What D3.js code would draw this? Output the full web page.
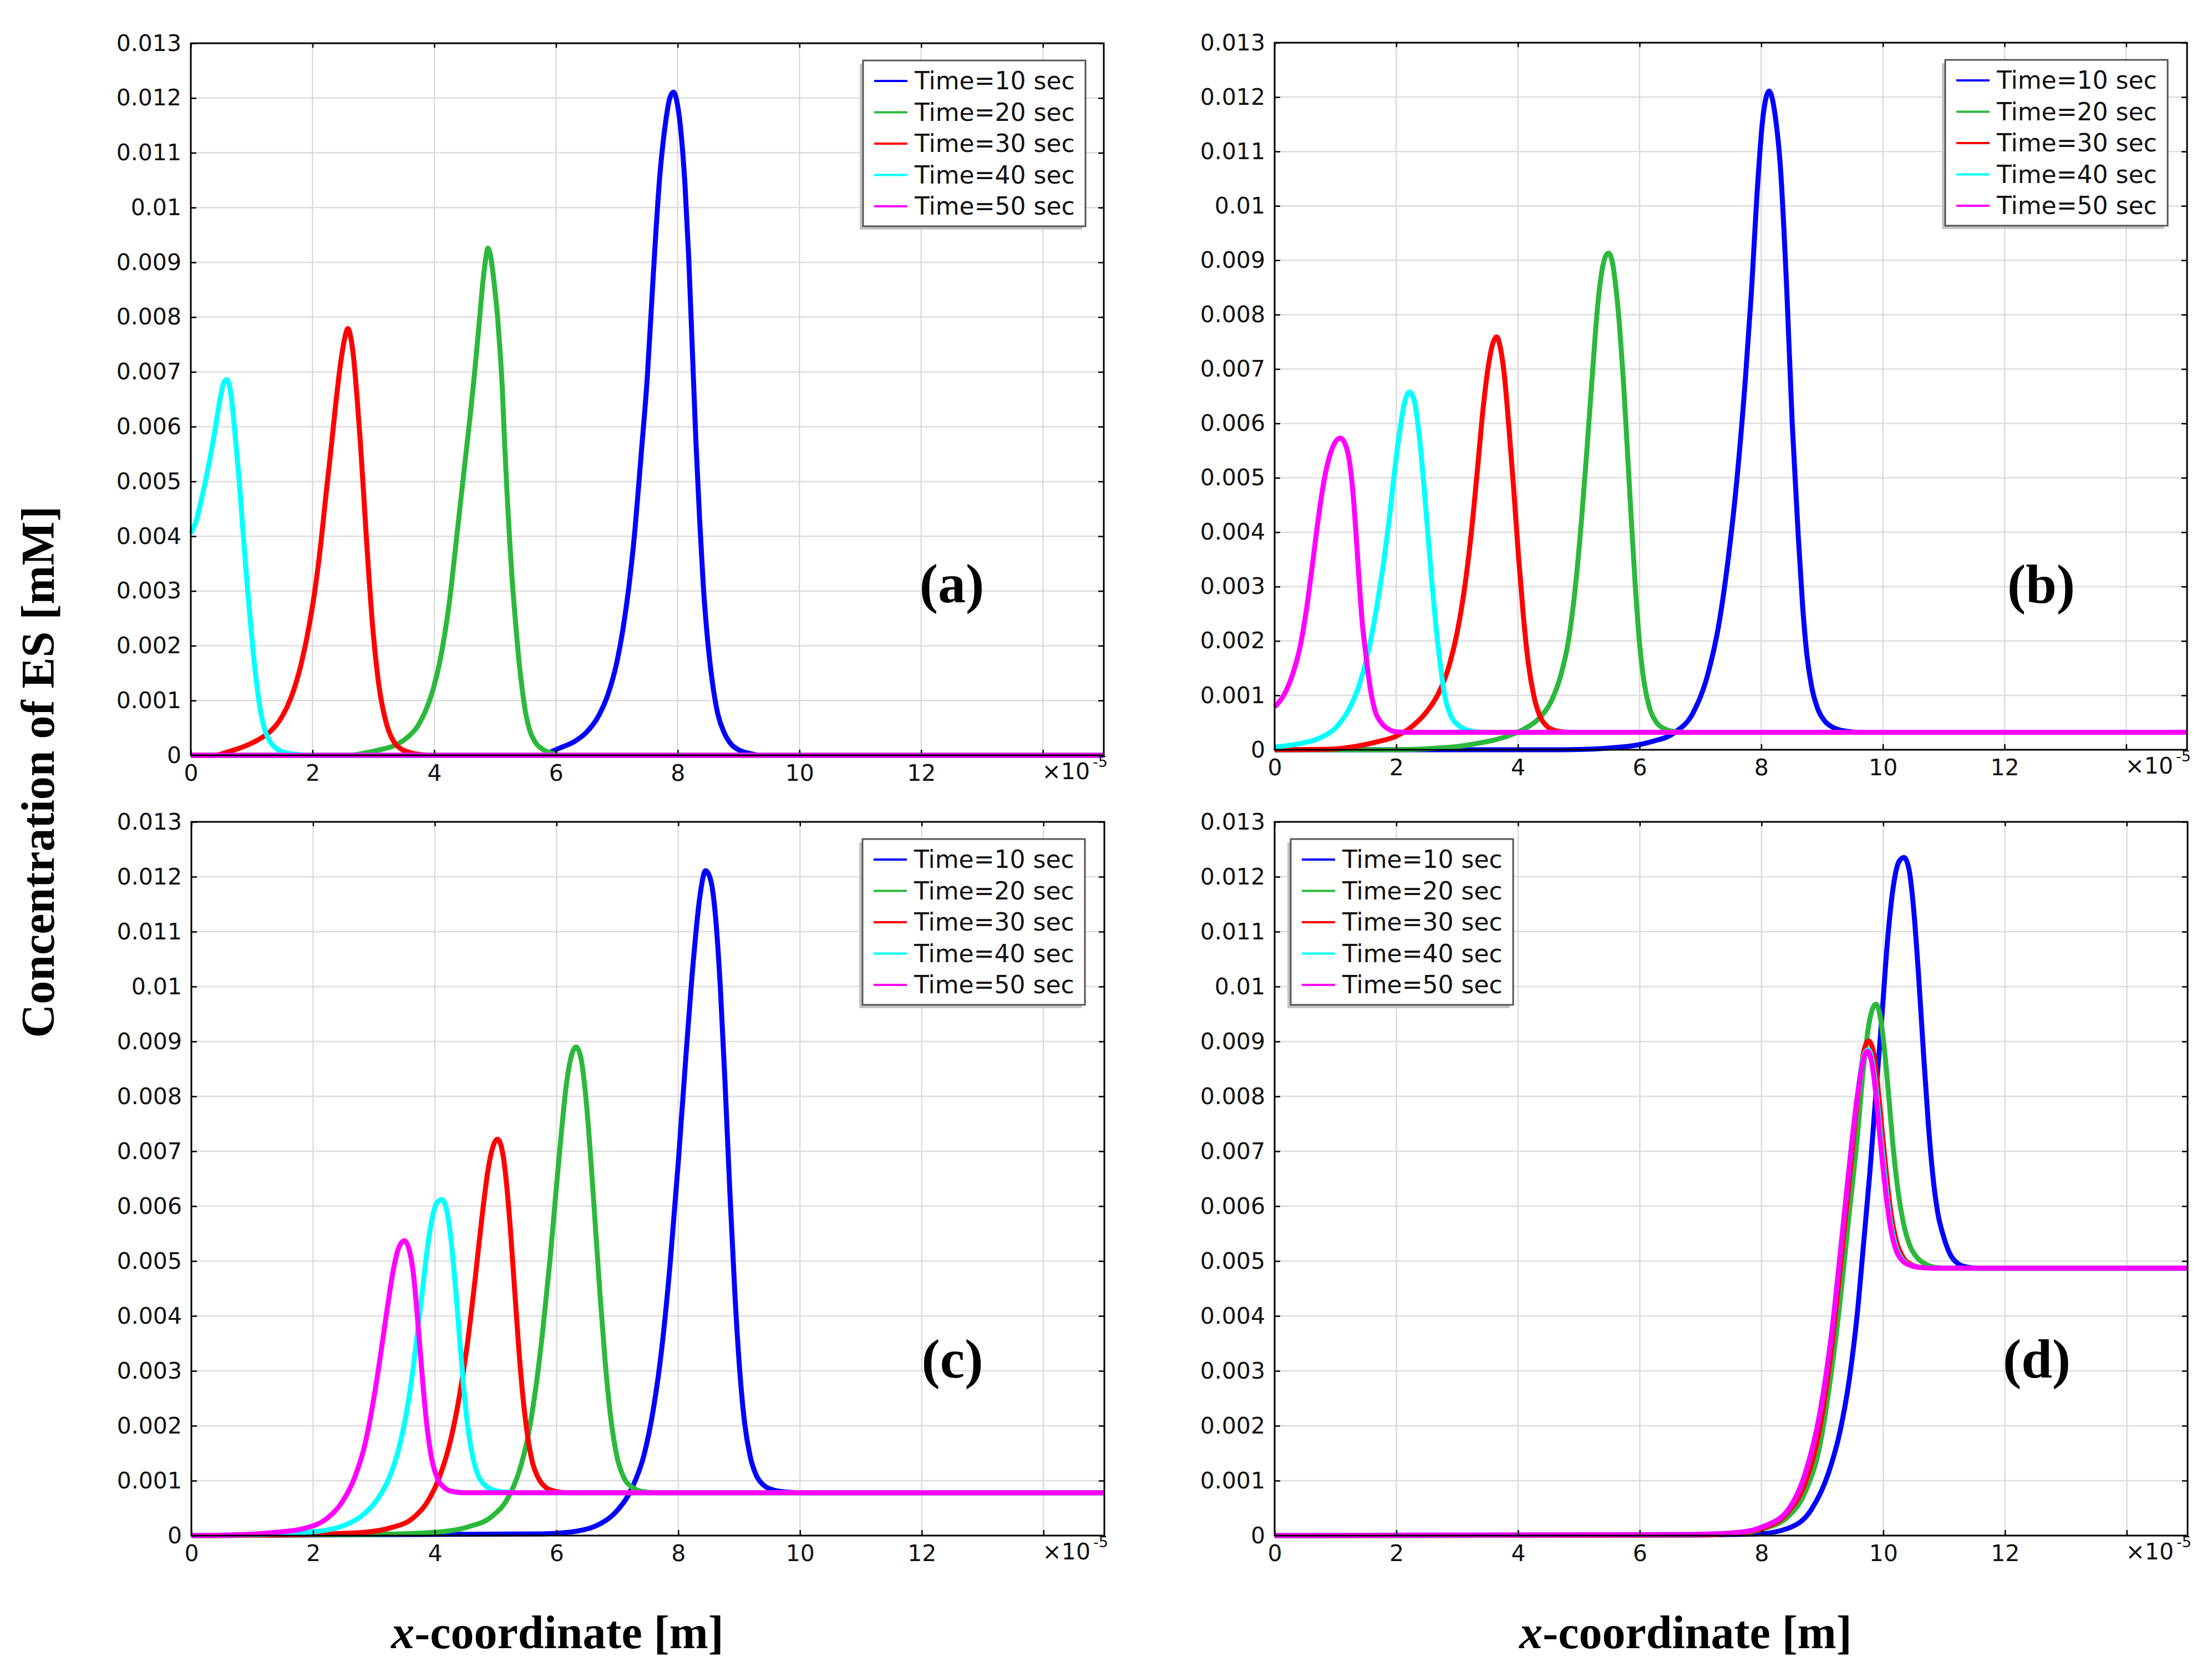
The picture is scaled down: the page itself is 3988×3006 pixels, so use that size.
<!DOCTYPE html>
<html>
<head>
<meta charset="utf-8">
<script src="https://cdn.jsdelivr.net/npm/d3@7"></script>
<style>
  body { margin: 0; background: #fff; }
</style>
</head>
<body>
<svg id="chart"></svg>
<script>
// x in units of 1e-5 m, concentration in 1e-3 mM (tick labels below are in mM)
var seriesNames = ["Time=10 sec", "Time=20 sec", "Time=30 sec", "Time=40 sec", "Time=50 sec"];
var seriesColors = ["#0000ff", "#2cb83c", "#ff0000", "#00ffff", "#ff00ff"];

var xTicks = [0, 2, 4, 6, 8, 10, 12, 14];
var xTickLabels = ["0", "2", "4", "6", "8", "10", "12", ""];
var yTicks = [0, 1, 2, 3, 4, 5, 6, 7, 8, 9, 10, 11, 12, 13];
var yTickLabels = ["0", "0.001", "0.002", "0.003", "0.004", "0.005", "0.006",
  "0.007", "0.008", "0.009", "0.01", "0.011", "0.012", "0.013"];

// panel (a)
var a_t10 = [[0,0],[5.8,0],[5.95,0.08],[6.1,0.15],[6.3,0.25],[6.5,0.42],[6.7,0.72],[6.85,1.1],[7.0,1.7],[7.1,2.3],[7.2,3.1],[7.3,4.15],[7.4,5.5],[7.5,6.9],[7.6,8.8],[7.7,10.5],[7.8,11.55],[7.87,12.0],[7.93,12.11],[8.0,11.85],[8.06,11.3],[8.12,10.4],[8.18,9.1],[8.24,7.4],[8.3,5.7],[8.36,4.3],[8.42,3.1],[8.5,2.0],[8.58,1.25],[8.66,0.75],[8.76,0.42],[8.88,0.2],[9.0,0.1],[9.2,0.03],[9.4,0],[15,0]];
var a_t20 = [[0,0],[2.6,0],[2.85,0.04],[3.1,0.1],[3.35,0.18],[3.55,0.32],[3.72,0.52],[3.86,0.82],[3.98,1.2],[4.08,1.65],[4.17,2.2],[4.26,2.9],[4.34,3.7],[4.42,4.5],[4.5,5.3],[4.58,6.1],[4.66,6.95],[4.74,7.92],[4.8,8.65],[4.85,9.1],[4.88,9.26],[4.92,9.15],[4.96,8.85],[5.0,8.45],[5.04,8.0],[5.08,7.4],[5.12,6.65],[5.16,5.6],[5.2,4.7],[5.24,3.9],[5.28,3.2],[5.33,2.5],[5.38,1.85],[5.44,1.25],[5.5,0.78],[5.57,0.45],[5.66,0.24],[5.78,0.11],[5.92,0.04],[6.1,0],[15,0]];
var a_t30 = [[0,0],[0.4,0],[0.6,0.06],[0.85,0.15],[1.1,0.28],[1.3,0.43],[1.45,0.62],[1.58,0.88],[1.7,1.22],[1.82,1.7],[1.95,2.4],[2.05,3.1],[2.14,3.9],[2.22,4.75],[2.3,5.55],[2.38,6.4],[2.46,7.15],[2.53,7.62],[2.58,7.79],[2.63,7.62],[2.68,7.2],[2.73,6.55],[2.78,5.8],[2.83,4.95],[2.88,4.05],[2.93,3.2],[2.98,2.45],[3.04,1.75],[3.1,1.2],[3.17,0.78],[3.25,0.45],[3.34,0.24],[3.45,0.12],[3.6,0.05],[3.8,0.01],[4.0,0],[15,0]];
var a_t40 = [[0,4.05],[0.08,4.25],[0.16,4.6],[0.24,5.0],[0.32,5.45],[0.4,5.95],[0.48,6.5],[0.54,6.8],[0.59,6.86],[0.64,6.72],[0.69,6.3],[0.74,5.7],[0.8,4.95],[0.86,4.05],[0.92,3.2],[0.98,2.42],[1.04,1.72],[1.1,1.15],[1.16,0.72],[1.22,0.45],[1.3,0.25],[1.4,0.13],[1.52,0.06],[1.7,0.02],[2.0,0],[15,0]];
var a_t50 = [[0,0],[15,0]];

// panel (b)
var b_t10 = [[0,0],[4.75,0],[5.71,0.05],[6.2,0.15],[6.58,0.32],[6.87,0.66],[7.11,1.34],[7.31,2.35],[7.45,3.45],[7.6,4.97],[7.74,6.83],[7.84,8.44],[7.93,10.21],[8.03,11.65],[8.13,12.11],[8.22,11.73],[8.32,10.63],[8.42,8.44],[8.51,5.98],[8.61,3.9],[8.68,2.65],[8.75,1.75],[8.83,1.15],[8.93,0.75],[9.05,0.52],[9.2,0.4],[9.4,0.34],[9.65,0.32],[15,0.32]];
var b_t20 = [[0,0],[1.85,0],[2.82,0.04],[3.3,0.11],[3.8,0.24],[4.1,0.38],[4.35,0.58],[4.55,0.9],[4.7,1.35],[4.83,2.0],[4.94,2.95],[5.04,4.15],[5.14,5.6],[5.23,7.0],[5.31,8.15],[5.38,8.8],[5.44,9.07],[5.49,9.13],[5.55,8.98],[5.61,8.5],[5.67,7.8],[5.73,6.85],[5.79,5.7],[5.86,4.3],[5.93,3.0],[6.0,1.95],[6.08,1.2],[6.17,0.75],[6.28,0.5],[6.42,0.38],[6.6,0.33],[6.8,0.32],[15,0.32]];
var b_t30 = [[0,0],[0.89,0.01],[1.37,0.07],[1.7,0.15],[2.0,0.25],[2.25,0.42],[2.5,0.7],[2.7,1.05],[2.87,1.55],[3.0,2.15],[3.12,2.95],[3.23,3.95],[3.33,5.1],[3.43,6.3],[3.52,7.1],[3.59,7.48],[3.65,7.59],[3.71,7.4],[3.78,6.85],[3.85,5.95],[3.93,4.8],[4.01,3.55],[4.09,2.45],[4.17,1.6],[4.26,1.0],[4.36,0.62],[4.48,0.43],[4.62,0.35],[4.8,0.32],[15,0.32]];
var b_t40 = [[0,0.05],[0.4,0.11],[0.75,0.22],[1.0,0.4],[1.2,0.7],[1.38,1.15],[1.53,1.75],[1.66,2.5],[1.78,3.35],[1.88,4.2],[1.97,5.1],[2.05,5.8],[2.13,6.35],[2.22,6.58],[2.3,6.4],[2.37,5.85],[2.44,5.05],[2.51,4.1],[2.58,3.15],[2.65,2.3],[2.72,1.6],[2.8,0.98],[2.9,0.62],[3.02,0.45],[3.18,0.36],[3.4,0.32],[15,0.32]];
var b_t50 = [[0,0.79],[0.15,1.0],[0.3,1.4],[0.42,1.9],[0.52,2.55],[0.61,3.3],[0.7,4.1],[0.79,4.8],[0.88,5.3],[0.97,5.6],[1.08,5.73],[1.16,5.62],[1.23,5.3],[1.29,4.7],[1.34,3.95],[1.39,3.1],[1.44,2.35],[1.5,1.75],[1.57,1.15],[1.65,0.72],[1.75,0.5],[1.87,0.38],[2.0,0.33],[2.2,0.32],[15,0.32]];

// panel (c)
var c_t10 = [[0,0],[5.75,0.03],[6.33,0.08],[6.71,0.21],[7.0,0.46],[7.25,0.89],[7.44,1.48],[7.59,2.3],[7.73,3.42],[7.87,5.0],[8.0,6.8],[8.13,8.8],[8.25,10.5],[8.35,11.6],[8.45,12.11],[8.53,11.95],[8.61,11.3],[8.69,10.0],[8.77,8.2],[8.85,6.2],[8.93,4.4],[9.01,3.0],[9.09,2.05],[9.18,1.45],[9.28,1.1],[9.4,0.92],[9.56,0.83],[9.8,0.79],[10.05,0.78],[15,0.78]];
var c_t20 = [[0,0],[3.0,0.02],[4.0,0.06],[4.55,0.16],[4.95,0.36],[5.2,0.68],[5.38,1.15],[5.53,1.8],[5.66,2.7],[5.78,3.8],[5.89,5.0],[5.99,6.25],[6.08,7.35],[6.16,8.2],[6.24,8.72],[6.32,8.9],[6.4,8.7],[6.48,8.0],[6.56,6.9],[6.64,5.6],[6.72,4.3],[6.8,3.15],[6.89,2.15],[6.99,1.45],[7.1,1.07],[7.24,0.88],[7.42,0.8],[7.65,0.78],[15,0.78]];
var c_t30 = [[0,0],[1.9,0.02],[2.85,0.06],[3.3,0.15],[3.62,0.3],[3.87,0.6],[4.07,1.05],[4.24,1.65],[4.39,2.45],[4.53,3.45],[4.66,4.65],[4.78,5.85],[4.88,6.7],[4.96,7.1],[5.03,7.22],[5.1,7.05],[5.17,6.5],[5.24,5.6],[5.31,4.5],[5.38,3.4],[5.45,2.5],[5.52,1.85],[5.6,1.35],[5.7,1.05],[5.82,0.88],[5.97,0.81],[6.2,0.78],[15,0.78]];
var c_t40 = [[0,0],[1.4,0.03],[2.1,0.08],[2.5,0.18],[2.8,0.36],[3.05,0.65],[3.25,1.05],[3.4,1.55],[3.52,2.15],[3.62,2.85],[3.71,3.65],[3.8,4.5],[3.88,5.25],[3.96,5.8],[4.04,6.07],[4.12,6.12],[4.19,5.95],[4.26,5.45],[4.33,4.65],[4.4,3.7],[4.47,2.75],[4.54,2.0],[4.62,1.45],[4.71,1.1],[4.82,0.92],[4.96,0.83],[5.15,0.79],[5.35,0.78],[15,0.78]];
var c_t50 = [[0,0],[0.9,0.02],[1.4,0.06],[1.85,0.13],[2.2,0.29],[2.47,0.6],[2.68,1.05],[2.85,1.65],[2.99,2.45],[3.11,3.3],[3.22,4.15],[3.32,4.85],[3.41,5.25],[3.5,5.37],[3.58,5.2],[3.65,4.75],[3.72,3.9],[3.79,2.95],[3.86,2.1],[3.94,1.45],[4.04,1.05],[4.16,0.87],[4.3,0.8],[4.5,0.78],[15,0.78]];

// panel (d)
var d_t10 = [[0,0],[6.69,0.01],[7.94,0.03],[8.43,0.13],[8.81,0.46],[9.1,1.14],[9.29,1.9],[9.44,2.83],[9.57,4.01],[9.68,5.36],[9.78,6.62],[9.88,8.06],[9.98,9.49],[10.07,10.84],[10.17,11.86],[10.26,12.28],[10.34,12.35],[10.42,12.15],[10.5,11.4],[10.58,10.2],[10.66,8.8],[10.74,7.5],[10.82,6.5],[10.9,5.85],[10.99,5.45],[11.1,5.12],[11.22,4.96],[11.38,4.89],[11.6,4.87],[15,4.87]];
var d_t20 = [[0,0],[6.69,0.01],[7.65,0.04],[8.04,0.13],[8.43,0.34],[8.72,0.8],[8.96,1.65],[9.15,3.0],[9.29,4.26],[9.44,5.86],[9.57,7.22],[9.68,8.57],[9.78,9.41],[9.88,9.68],[9.95,9.45],[10.02,8.85],[10.09,8.0],[10.16,7.1],[10.24,6.3],[10.33,5.7],[10.43,5.3],[10.55,5.07],[10.7,4.94],[10.9,4.88],[11.1,4.87],[15,4.87]];
var d_t30 = [[0,0],[6.9,0.01],[7.65,0.05],[8.04,0.14],[8.43,0.42],[8.72,0.97],[8.96,1.98],[9.15,3.42],[9.29,4.85],[9.44,6.46],[9.57,7.89],[9.68,8.82],[9.76,9.01],[9.83,8.85],[9.9,8.3],[9.97,7.5],[10.05,6.6],[10.13,5.85],[10.22,5.35],[10.33,5.06],[10.47,4.93],[10.65,4.88],[10.85,4.87],[15,4.87]];
var d_t40 = [[0,0],[6.88,0.02],[7.65,0.06],[8.04,0.17],[8.43,0.46],[8.72,1.14],[8.96,2.24],[9.15,3.67],[9.29,5.1],[9.44,6.71],[9.57,7.97],[9.67,8.7],[9.75,8.85],[9.82,8.65],[9.89,8.05],[9.96,7.25],[10.04,6.4],[10.12,5.7],[10.21,5.25],[10.32,5.02],[10.46,4.92],[10.65,4.88],[10.85,4.87],[15,4.87]];
var d_t50 = [[0,0],[6.88,0.02],[7.65,0.06],[8.04,0.17],[8.43,0.46],[8.72,1.14],[8.96,2.24],[9.15,3.67],[9.29,5.1],[9.44,6.71],[9.57,7.97],[9.67,8.65],[9.74,8.82],[9.81,8.62],[9.88,8.02],[9.95,7.2],[10.03,6.35],[10.11,5.67],[10.2,5.23],[10.31,5.01],[10.45,4.92],[10.64,4.88],[10.85,4.87],[15,4.87]];

var W = 3988, H = 3006;
var tickFont = "'DejaVu Sans', sans-serif";
var serifFont = "'Liberation Serif', 'Times New Roman', serif";

var panels = [
  {label: "(a)", series: [a_t10, a_t20, a_t30, a_t40, a_t50], x0: 344, x1: 1990, y0: 78, y1: 1362, legX: 1556, legY: 109, labX: 1716, labY: 1086},
  {label: "(b)", series: [b_t10, b_t20, b_t30, b_t40, b_t50], x0: 2298, x1: 3943, y0: 77, y1: 1352, legX: 3507, legY: 108, labX: 3680, labY: 1087},
  {label: "(c)", series: [c_t10, c_t20, c_t30, c_t40, c_t50], x0: 345, x1: 1991, y0: 1482, y1: 2769, legX: 1555, legY: 1513, labX: 1717, labY: 2484},
  {label: "(d)", series: [d_t10, d_t20, d_t30, d_t40, d_t50], x0: 2298, x1: 3944, y0: 1482, y1: 2769, legX: 2327, legY: 1513, labX: 3672, labY: 2484}
];

var svg = d3.select("#chart")
  .attr("width", W)
  .attr("height", H)
  .attr("viewBox", "0 0 " + W + " " + H);

svg.append("rect").attr("width", W).attr("height", H).attr("fill", "#fff");

panels.forEach(function(p) {
  var x = d3.scaleLinear().domain([0, 15]).range([p.x0, p.x1]);
  var y = d3.scaleLinear().domain([0, 13]).range([p.y1, p.y0]);
  var g = svg.append("g");

  // grid
  g.append("g").selectAll("line").data(xTicks.slice(1)).enter().append("line")
    .attr("x1", function(d) { return x(d); }).attr("x2", function(d) { return x(d); })
    .attr("y1", p.y0).attr("y2", p.y1)
    .attr("stroke", "#dcdcdc").attr("stroke-width", 2.5);
  g.append("g").selectAll("line").data(yTicks.slice(1, -1)).enter().append("line")
    .attr("x1", p.x0).attr("x2", p.x1)
    .attr("y1", function(d) { return y(d); }).attr("y2", function(d) { return y(d); })
    .attr("stroke", "#dcdcdc").attr("stroke-width", 2.5);

  // curves
  var line = d3.line()
    .x(function(d) { return x(d[0]); })
    .y(function(d) { return y(d[1]); })
    .curve(d3.curveMonotoneX);

  g.append("g").selectAll("path").data(p.series).enter().append("path")
    .attr("d", line)
    .attr("fill", "none")
    .attr("stroke", function(d, i) { return seriesColors[i]; })
    .attr("stroke-width", 9)
    .attr("stroke-linejoin", "round");

  // axes (inward ticks on all four sides)
  var xAxis = g.append("g").attr("transform", "translate(0," + p.y1 + ")")
    .call(d3.axisBottom(x).tickValues(xTicks).tickSize(-10).tickPadding(17)
      .tickFormat(function(d, i) { return xTickLabels[i]; }));
  var yAxis = g.append("g").attr("transform", "translate(" + p.x0 + ",0)")
    .call(d3.axisLeft(y).tickValues(yTicks).tickSize(-10).tickPadding(17)
      .tickFormat(function(d, i) { return yTickLabels[i]; }));
  var topAxis = g.append("g").attr("transform", "translate(0," + p.y0 + ")")
    .call(d3.axisTop(x).tickValues(xTicks).tickSize(-8).tickFormat(""));
  var rightAxis = g.append("g").attr("transform", "translate(" + p.x1 + ",0)")
    .call(d3.axisRight(y).tickValues(yTicks).tickSize(-10).tickFormat(""));

  [xAxis, yAxis, topAxis, rightAxis].forEach(function(a) {
    a.select(".domain").remove();
    a.selectAll(".tick line").attr("stroke", "#000").attr("stroke-width", 2.5);
    a.selectAll("text")
      .attr("font-family", tickFont)
      .attr("font-size", 41)
      .attr("fill", "#111");
  });

  g.append("rect")
    .attr("x", p.x0).attr("y", p.y0)
    .attr("width", p.x1 - p.x0).attr("height", p.y1 - p.y0)
    .attr("fill", "none").attr("stroke", "#000").attr("stroke-width", 3);

  // x10^-5 multiplier
  g.append("text")
    .attr("x", p.x1 - 25).attr("y", p.y1 + 43)
    .attr("text-anchor", "end")
    .attr("font-family", tickFont).attr("font-size", 41).attr("fill", "#111")
    .text("\u00d710");
  g.append("text")
    .attr("x", p.x1 - 20).attr("y", p.y1 + 21)
    .attr("font-family", tickFont).attr("font-size", 27).attr("fill", "#111")
    .text("-5");

  // legend
  var leg = g.append("g").attr("transform", "translate(" + p.legX + "," + p.legY + ")");
  leg.append("rect").attr("x", -6).attr("y", 6).attr("width", 401).attr("height", 299)
    .attr("fill", "#c4c4c4");
  leg.append("rect").attr("x", 0).attr("y", 0).attr("width", 401).attr("height", 299)
    .attr("fill", "#fff").attr("stroke", "#555").attr("stroke-width", 3);
  var rows = leg.selectAll("g.row").data(seriesNames).enter().append("g")
    .attr("class", "row")
    .attr("transform", function(d, i) { return "translate(0," + (37 + i * 56.5) + ")"; });
  rows.append("line")
    .attr("x1", 20).attr("x2", 80).attr("y1", 0).attr("y2", 0)
    .attr("stroke", function(d, i) { return seriesColors[i]; })
    .attr("stroke-width", 4);
  rows.append("text")
    .attr("x", 93).attr("y", 15)
    .attr("font-family", tickFont).attr("font-size", 44).attr("fill", "#111")
    .text(function(d) { return d; });

  // panel label
  g.append("text")
    .attr("x", p.labX).attr("y", p.labY)
    .attr("text-anchor", "middle")
    .attr("font-family", serifFont).attr("font-weight", "bold").attr("font-size", 100)
    .text(p.label);
});

// shared axis titles
svg.append("text")
  .attr("transform", "translate(97,1392) rotate(-90)")
  .attr("text-anchor", "middle")
  .attr("font-family", serifFont).attr("font-weight", "bold").attr("font-size", 84)
  .text("Concentration of ES [mM]");

[1005, 3039].forEach(function(cx) {
  var t = svg.append("text")
    .attr("x", cx).attr("y", 2972)
    .attr("text-anchor", "middle")
    .attr("font-family", serifFont).attr("font-weight", "bold").attr("font-size", 84);
  t.append("tspan").attr("font-style", "italic").text("x");
  t.append("tspan").text("-coordinate [m]");
});
</script>
</body>
</html>
